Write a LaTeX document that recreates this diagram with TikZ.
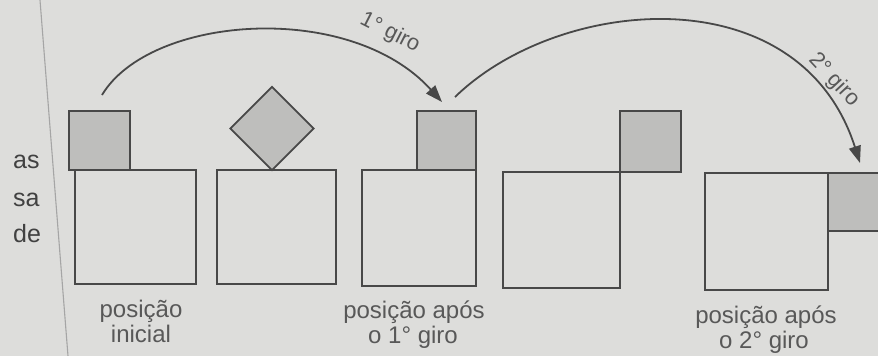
\documentclass[tikz,border=0pt]{standalone}
\usepackage{fontspec}
\setmainfont{Liberation Sans}
\usetikzlibrary{arrows.meta}
\definecolor{bg}{RGB}{221,221,219}
\definecolor{ink}{RGB}{72,72,72}
\definecolor{txt}{RGB}{88,88,88}
\definecolor{shade}{RGB}{190,190,188}
\definecolor{margin}{RGB}{165,165,165}
\begin{document}
\begin{tikzpicture}[x=1pt,y=-1pt,
  bigsq/.style={draw=ink,line width=1.8pt,inner sep=0pt,outer sep=0pt,anchor=north west},
  smallsq/.style={draw=ink,line width=1.8pt,fill=shade,inner sep=0pt,outer sep=0pt},
  turn/.style={draw=ink,line width=1.8pt,-{Triangle[length=17pt,width=12pt]}},
  lbl/.style={text=txt,font=\fontsize{24}{24}\selectfont,inner sep=0pt,anchor=base},
  arclbl/.style={text=txt,font=\fontsize{22}{22}\selectfont,inner sep=0pt},
  side/.style={text=ink!90!black,font=\fontsize{25}{25}\selectfont,inner sep=0pt,anchor=base west}]
\fill[bg] (0,0) rectangle (878,356);
\useasboundingbox (0,0) rectangle (878,356);
% page margin line
\coordinate (m1) at (40,0);
\coordinate (m2) at (68,356);
\draw[margin,line width=1.1pt] (m1) -- (m2);
% cut-off text at the left
\node[side] (t1) at (13,168) {as};
\node[side] (t2) at (13,206) {sa};
\node[side] (t3) at (13,242) {de};
% big squares
\node[bigsq,minimum width=121pt,minimum height=114pt] (b1) at (75,170) {};
\node[bigsq,minimum width=119pt,minimum height=114pt] (b2) at (217,170) {};
\node[bigsq,minimum width=114pt,minimum height=116pt] (b3) at (362,170) {};
\node[bigsq,minimum width=117pt,minimum height=116pt] (b4) at (503,172) {};
\node[bigsq,minimum width=123pt,minimum height=117pt] (b5) at (705,173) {};
% small squares
\node[smallsq,minimum width=61pt,minimum height=59pt,anchor=south west] (s1) at (69,170) {};
\node[smallsq,minimum size=59pt,rotate=45] (s2) at (272,128.5) {};
\node[smallsq,minimum width=59pt,minimum height=59pt,anchor=south east] (s3) at (476,170) {};
\node[smallsq,minimum width=61pt,minimum height=61pt,anchor=south west] (s4) at (620,172) {};
\node[smallsq,minimum width=62pt,minimum height=58pt,anchor=north west] (s5) at (828,173) {};
% turning arrows
\coordinate (a1s) at (102,95);
\coordinate (a1e) at (442,102);
\coordinate (a2s) at (455,97);
\coordinate (a2e) at (860,163);
\draw[turn] (a1s) .. controls (150,15) and (350,0) .. (a1e);
\draw[turn] (a2s) .. controls (560,-5) and (800,-25) .. (a2e);
\node[arclbl,rotate=-27] (g1) at (390,33) {1° giro};
\node[arclbl,rotate=-47] (g2) at (834,80) {2° giro};
% captions
\node[lbl] (c1a) at (141,317) {posição};
\node[lbl] (c1b) at (141,342) {inicial};
\node[lbl] (c3a) at (414,318) {posição após};
\node[lbl] (c3b) at (413,343) {o 1° giro};
\node[lbl] (c5a) at (766,323) {posição após};
\node[lbl] (c5b) at (764,348) {o 2° giro};
\end{tikzpicture}
\end{document}
